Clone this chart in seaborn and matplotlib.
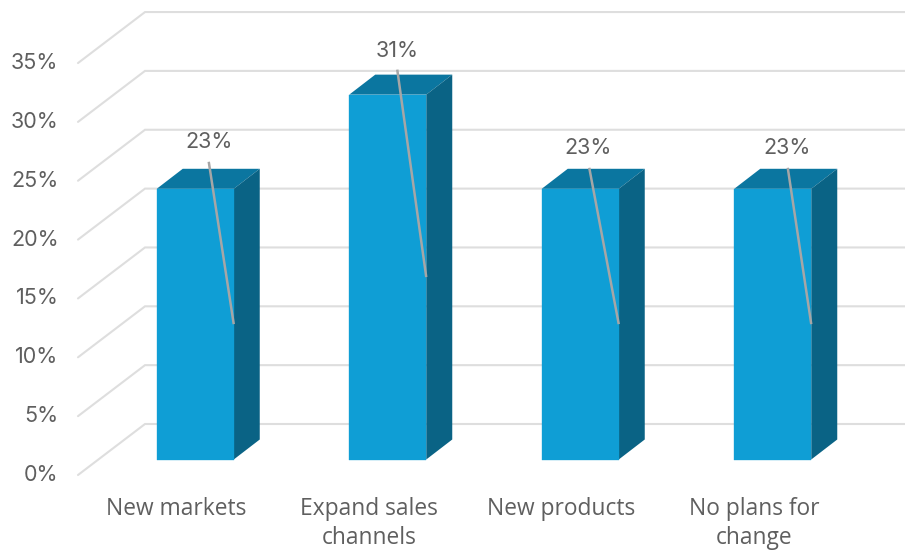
import matplotlib
matplotlib.use("Agg")
import matplotlib.pyplot as plt
from matplotlib.patches import Polygon
from matplotlib.transforms import Affine2D
import pandas as pd
import seaborn as sns

categories = ["New markets", "Expand sales\nchannels", "New products", "No plans for\nchange"]
shares = [23, 31, 23, 23]
y_ticks = [0, 5, 10, 15, 20, 25, 30, 35]

FRONT, TOP, SIDE = "#0F9ED5", "#0B76A0", "#0A6385"
GRID, LEADER, TEXT = "#DEDEDE", "#A6A6A6", "#5F5F5F"
PX_PER_UNIT = 11.77
PX_PER_CAT = 192.5
BAR_W = 0.4
BAR_DX, BAR_DY = 26, 20      # bar depth, pixels
WALL_DX, WALL_DY = 67, 51    # floor depth, pixels
BAR_SHIFT = (21, 15.5)       # bars stand inside the floor, pixels
NUM_FONT = ["Inter", "DejaVu Sans"]

sns.set_theme(style="white", rc={"font.family": ["Open Sans", "DejaVu Sans"]})
fig = plt.figure(figsize=(9.05, 5.5), dpi=100, facecolor="white")
ax = fig.add_axes([78 / 905, 75 / 550, 770 / 905, 40 * PX_PER_UNIT / 550])

df = pd.DataFrame({"category": categories, "share": shares})
sns.barplot(data=df, x="category", y="share", color=FRONT, saturation=1,
            width=BAR_W, ax=ax, zorder=3)
ax.set_xlim(-0.5, 3.5)
ax.set_ylim(0, 40)
ax.set_xlabel("")
ax.set_ylabel("")
sns.despine(ax=ax, left=True, bottom=True)
ax.patch.set_alpha(0)

# Walls: a diagonal on the side wall, then a horizontal line along the back
wall_x = -0.5 + WALL_DX / PX_PER_CAT
wall_y = WALL_DY / PX_PER_UNIT
for v in y_ticks:
    ax.plot([-0.5, wall_x, 4.0], [v, v + wall_y, v + wall_y], color=GRID, lw=1.5,
            clip_on=False, zorder=1, solid_joinstyle="miter")

shift = Affine2D().translate(*BAR_SHIFT)
bar_tf = ax.transData + shift
for patch in list(ax.patches):
    patch.set_transform(bar_tf)
    patch.set_clip_on(False)
    patch.set_edgecolor(FRONT)
    patch.set_linewidth(0.25)

ddx, ddy = BAR_DX / PX_PER_CAT, BAR_DY / PX_PER_UNIT
half = BAR_W / 2
# Label centres and leader tops, as pixel offsets from each bar's top centre
label_offsets = [(14, 47), (9, 44), (8, 41), (14, 41)]
leader_offsets = [(13.5, 27), (9.5, 25), (9, 21), (15, 21)]
for i, v in enumerate(shares):
    ax.add_patch(Polygon([(i - half, v), (i + half, v), (i + half + ddx, v + ddy), (i - half + ddx, v + ddy)],
                         closed=True, fc=TOP, ec="none", transform=bar_tf, clip_on=False, zorder=2.9))
    ax.add_patch(Polygon([(i + half, 0), (i + half + ddx, ddy), (i + half + ddx, v + ddy), (i + half, v)],
                         closed=True, fc=SIDE, ec="none", transform=bar_tf, clip_on=False, zorder=2.9))
    ax.annotate(f"{v}%", xy=(i, v), xycoords=bar_tf,
                xytext=label_offsets[i], textcoords="offset pixels", family=NUM_FONT,
                ha="center", va="center", fontsize=15.5, color=TEXT, zorder=5)
    lead_x = i + leader_offsets[i][0] / PX_PER_CAT
    lead_y = v + leader_offsets[i][1] / PX_PER_UNIT
    ax.plot([lead_x, i + half], [lead_y, v / 2], color=LEADER, lw=1.8,
            transform=bar_tf, clip_on=False, zorder=4, solid_capstyle="butt")

ax.set_yticks(y_ticks)
ax.set_yticklabels([f"{v}%" for v in y_ticks], family=NUM_FONT)
ax.tick_params(axis="y", length=0, pad=14, labelsize=15.5, labelcolor=TEXT)
ax.tick_params(axis="x", length=0, pad=15.5, labelsize=16.4, labelcolor=TEXT)
for lab in ax.get_yticklabels():
    lab.set_transform(lab.get_transform() + Affine2D().translate(0, 2))
for lab in ax.get_xticklabels():
    lab.set_linespacing(1.3)
    lab.set_transform(lab.get_transform() + Affine2D().translate(2, 0))

fig.savefig("out.png", dpi=100, facecolor="white")
